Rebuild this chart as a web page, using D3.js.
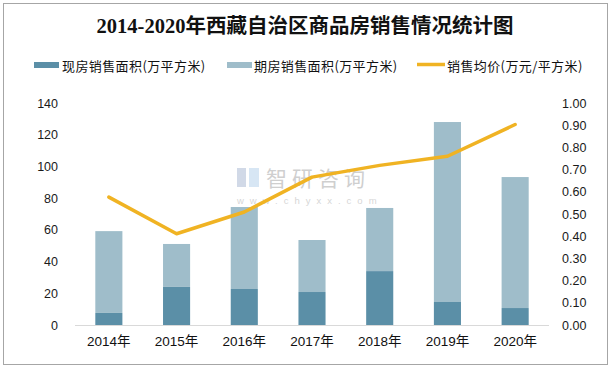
<!DOCTYPE html>
<html><head><meta charset="utf-8">
<script src="https://cdn.jsdelivr.net/npm/d3@7"></script>
<style>
html,body{margin:0;padding:0;background:#fff;}
svg{display:block;}
</style></head>
<body>
<svg id="chart" width="612" height="369"></svg>
<script>
const categories = ["2014年","2015年","2016年","2017年","2018年","2019年","2020年"];
const existingArea = [7.6, 24.0, 22.7, 20.8, 34.0, 14.5, 10.7];   // 现房销售面积
const futuresArea  = [51.6, 27.1, 51.7, 32.8, 39.8, 113.5, 82.6]; // 期房销售面积
const avgPrice     = [0.576, 0.411, 0.509, 0.666, 0.719, 0.760, 0.903]; // 销售均价
const leftTicks  = [0,20,40,60,80,100,120,140];
const rightTicks = [0,0.1,0.2,0.3,0.4,0.5,0.6,0.7,0.8,0.9,1.0];
const seriesNames = ["现房销售面积(万平方米)","期房销售面积(万平方米)","销售均价(万元/平方米)"];
const title = "2014-2020年西藏自治区商品房销售情况统计图";

const colors = {dark:"#5b8fa7", light:"#9fbdca", line:"#f0b323"};
const svg = d3.select("#chart");

// border
svg.append("rect").attr("x",3.5).attr("y",3.5).attr("width",604).attr("height",361)
  .attr("fill","#fff").attr("stroke","#a6a6a6").attr("stroke-width",1);

// title
svg.append("text").attr("x",305).attr("y",33).attr("text-anchor","middle")
  .attr("font-family","'Liberation Serif','Noto Sans CJK SC',serif")
  .attr("font-weight","bold").attr("font-size",20.5).attr("fill","#111").text(title);

const x = d3.scaleBand().domain(categories).range([75,549]).paddingInner(0.6).paddingOuter(0.3);
const yL = d3.scaleLinear().domain([0,140]).range([325,103]);
const yR = d3.scaleLinear().domain([0,1]).range([325,103]);

// watermark
const wm = svg.append("g").attr("opacity",0.4);
wm.append("rect").attr("x",237).attr("y",168).attr("width",9).attr("height",19).attr("fill","#8fa2c4");
wm.append("rect").attr("x",249).attr("y",168).attr("width",10).attr("height",19).attr("fill","#9ec3e6");
wm.append("text").attr("x",266).attr("y",186).attr("font-family","'Noto Sans CJK SC',sans-serif")
  .attr("font-size",21).attr("fill","#888").attr("letter-spacing",5).text("智研咨询");
wm.append("text").attr("x",237).attr("y",204).attr("font-family","'Liberation Sans',sans-serif")
  .attr("font-size",9.5).attr("fill","#999").attr("letter-spacing",6).text("www.chyxx.com");

// bars
const stackData = categories.map((c,i)=>({cat:c, a:existingArea[i], b:futuresArea[i]}));
const g = svg.append("g");
g.selectAll("rect.a").data(stackData).join("rect").attr("class","a")
  .attr("x",d=>x(d.cat)).attr("width",x.bandwidth())
  .attr("y",d=>yL(d.a)).attr("height",d=>yL(0)-yL(d.a)).attr("fill",colors.dark);
g.selectAll("rect.b").data(stackData).join("rect").attr("class","b")
  .attr("x",d=>x(d.cat)).attr("width",x.bandwidth())
  .attr("y",d=>yL(d.a+d.b)).attr("height",d=>yL(d.a)-yL(d.a+d.b)).attr("fill",colors.light);

// x axis line
svg.append("line").attr("x1",75).attr("x2",549).attr("y1",325.5).attr("y2",325.5)
  .attr("stroke","#d9d9d9").attr("stroke-width",1);

// line
const line = d3.line().x((d,i)=>x(categories[i])+x.bandwidth()/2).y(d=>yR(d));
svg.append("path").datum(avgPrice).attr("d",line).attr("fill","none")
  .attr("stroke",colors.line).attr("stroke-width",3.5).attr("stroke-linejoin","round").attr("stroke-linecap","round");

// axes
const axisFont = "'Liberation Sans',Arial,sans-serif";
const leftAxis = svg.append("g").attr("transform","translate(62,0)")
  .call(d3.axisLeft(yL).tickValues(leftTicks).tickSize(0).tickPadding(4).tickFormat(d3.format("d")));
const rightAxis = svg.append("g").attr("transform","translate(558,0)")
  .call(d3.axisRight(yR).tickValues(rightTicks).tickSize(0).tickPadding(4).tickFormat(d3.format(".2f")));
[leftAxis,rightAxis].forEach(a=>{
  a.select(".domain").remove();
  a.selectAll("text").attr("font-family",axisFont).attr("font-size",12.5).attr("fill","#1a1a1a");
});
const bottomAxis = svg.append("g").attr("transform","translate(0,325)")
  .call(d3.axisBottom(x).tickSize(0).tickPadding(11));
bottomAxis.select(".domain").remove();
bottomAxis.selectAll("text").attr("font-family","'Liberation Sans','Noto Sans CJK SC',sans-serif")
  .attr("font-size",13.5).attr("fill","#111");

// legend
const legendFont = "'Noto Sans CJK SC',sans-serif";
const legItems = [
  {x:34, tx:62, type:"rect", color:colors.dark},
  {x:227, tx:254, type:"rect", color:colors.light},
  {x:417, tx:447, type:"line", color:colors.line}
];
legItems.forEach((it,i)=>{
  if(it.type==="rect"){
    svg.append("rect").attr("x",it.x).attr("y",62).attr("width",25).attr("height",6).attr("fill",it.color);
  } else {
    svg.append("line").attr("x1",it.x).attr("x2",it.x+28).attr("y1",64.5).attr("y2",64.5)
      .attr("stroke",it.color).attr("stroke-width",3.5);
  }
  svg.append("text").attr("x",it.tx).attr("y",65).attr("dominant-baseline","central")
    .attr("font-family",legendFont).attr("font-size",13).attr("letter-spacing",0.4)
    .attr("fill","#111").text(seriesNames[i]);
});
</script>
</body></html>
